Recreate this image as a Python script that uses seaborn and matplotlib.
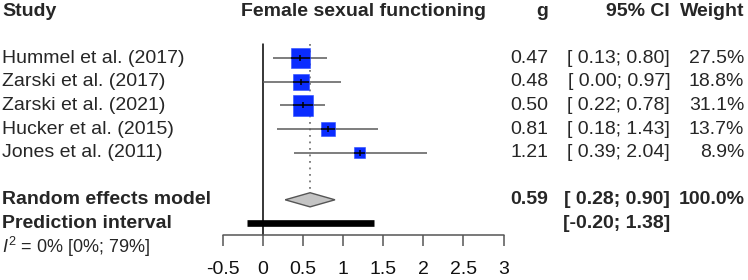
import numpy as np
import pandas as pd
import matplotlib
matplotlib.use("Agg")
import matplotlib.pyplot as plt
import matplotlib.transforms as mtransforms
from matplotlib.patches import Polygon
import seaborn as sns

# ---- data ----
studies = ["Hummel et al. (2017)", "Zarski et al. (2017)", "Zarski et al. (2021)",
           "Hucker et al. (2015)", "Jones et al. (2011)"]
g_values = [0.47, 0.48, 0.50, 0.81, 1.21]
ci_lower = [0.13, 0.00, 0.22, 0.18, 0.39]
ci_upper = [0.80, 0.97, 0.78, 1.43, 2.04]
weights = [27.5, 18.8, 31.1, 13.7, 8.9]

pooled_g = 0.59
pooled_lower = 0.28
pooled_upper = 0.90
pred_lower = -0.20
pred_upper = 1.38
heterogeneity = r"$I^{2}$ = 0% [0%; 79%]"

x_ticks = [-0.5, 0, 0.5, 1, 1.5, 2, 2.5, 3]
x_tick_labels = ["-0.5", "0", "0.5", "1", "1.5", "2", "2.5", "3"]
outcome_label = "Female sexual functioning"

df = pd.DataFrame({"study": studies, "g": g_values, "lo": ci_lower,
                   "hi": ci_upper, "w": weights})
df["row"] = np.arange(len(df)) + 2

sns.set_theme(style="white")
plt.rcParams["font.family"] = ["Liberation Sans", "DejaVu Sans"]
plt.rcParams["mathtext.fontset"] = "custom"
plt.rcParams["mathtext.rm"] = "Liberation Sans"
plt.rcParams["mathtext.it"] = "Liberation Sans:italic"

FS = 14
PX_PER_UNIT = 80.3
fig = plt.figure(figsize=(7.48, 2.80), dpi=100)
ax = fig.add_axes([0, 0, 1, 1])
ax.set_xlim(-262.7 / PX_PER_UNIT, (748 - 262.7) / PX_PER_UNIT)
ax.set_ylim((280 - 11) / 23.6, -11 / 23.6)
ax.axis("off")

col = mtransforms.blended_transform_factory(ax.transAxes, ax.transData)
x_study, x_g, x_ci, x_w = 0.003, 0.733, 0.896, 0.995

# header
ax.text(x_study, 0, "Study", transform=col, fontsize=FS, fontweight="bold", va="center")
ax.text(1.25, 0, outcome_label, fontsize=FS, fontweight="bold", va="center", ha="center")
ax.text(x_g, 0, "g", transform=col, fontsize=FS, fontweight="bold", va="center", ha="right")
ax.text(x_ci, 0, "95% CI", transform=col, fontsize=FS, fontweight="bold", va="center", ha="right")
ax.text(x_w, 0, "Weight", transform=col, fontsize=FS, fontweight="bold", va="center", ha="right")

# reference lines
top = 1.4
ax.plot([0, 0], [top, 9.5], color="black", lw=1.1, zorder=1)
ax.plot([pooled_g, pooled_g], [top, 7.7], color="#777777", lw=1.3,
        linestyle=(0, (1, 2.6)), zorder=1)

# study CIs and squares
side_px = 3.7 * np.sqrt(df["w"])
ax.hlines(df["row"], df["lo"], df["hi"], color="#5a5a5a", lw=1.1, zorder=2)
sns.scatterplot(data=df, x="g", y="row", marker="s", s=(side_px * 0.72) ** 2,
                color="#0a2cff", edgecolor="#2a4aff", linewidth=0.4,
                ax=ax, legend=False, zorder=3)
half = side_px / 2 / PX_PER_UNIT
ax.hlines(df["row"], np.maximum(df["lo"], df["g"] - half),
          np.minimum(df["hi"], df["g"] + half), color="black", lw=1.1, zorder=4)
ax.plot(df["g"], df["row"], linestyle="none", marker="|", markersize=5,
        markeredgewidth=1.1, color="black", zorder=5)

for _, r in df.iterrows():
    ax.text(x_study, r["row"], r["study"], transform=col, fontsize=FS, va="center")
    ax.text(x_g, r["row"], f"{r['g']:.2f}", transform=col, fontsize=FS,
            va="center", ha="right")
    ax.text(x_ci, r["row"], f"[{r['lo']:5.2f}; {r['hi']:.2f}]", transform=col,
            fontsize=FS, va="center", ha="right")
    ax.text(x_w, r["row"], f"{r['w']:.1f}%", transform=col, fontsize=FS,
            va="center", ha="right")

# pooled diamond
h = 0.3
ax.add_patch(Polygon([(pooled_lower, 8), (pooled_g, 8 - h), (pooled_upper, 8),
                      (pooled_g, 8 + h)], closed=True, facecolor="#c4c4c4",
                     edgecolor="#555555", lw=1.0, zorder=3))
ax.text(x_study, 8, "Random effects model", transform=col, fontsize=FS,
        fontweight="bold", va="center")
ax.text(x_g, 8, f"{pooled_g:.2f}", transform=col, fontsize=FS, fontweight="bold",
        va="center", ha="right")
ax.text(x_ci, 8, f"[{pooled_lower:5.2f}; {pooled_upper:.2f}]", transform=col,
        fontsize=FS, fontweight="bold", va="center", ha="right")
ax.text(x_w, 8, "100.0%", transform=col, fontsize=FS, fontweight="bold",
        va="center", ha="right")

# prediction interval
ax.plot([pred_lower, pred_upper], [9, 9], color="black", lw=4.8,
        solid_capstyle="butt", zorder=3)
ax.text(x_study, 9, "Prediction interval", transform=col, fontsize=FS,
        fontweight="bold", va="center")
ax.text(x_ci, 9, f"[{pred_lower:.2f}; {pred_upper:.2f}]", transform=col,
        fontsize=FS, fontweight="bold", va="center", ha="right")

ax.text(x_study, 10, heterogeneity, transform=col, fontsize=13, va="center")

# x axis
ax.plot([x_ticks[0], x_ticks[-1]], [9.5, 9.5], color="#555555", lw=1.1)
ax.vlines(x_ticks, 9.5, 9.97, color="#555555", lw=1.1)
for t, lab in zip(x_ticks, x_tick_labels):
    ax.text(t, 10.97, lab, fontsize=FS, ha="center", va="center", color="#111111")

fig.savefig("out.png", dpi=100)
